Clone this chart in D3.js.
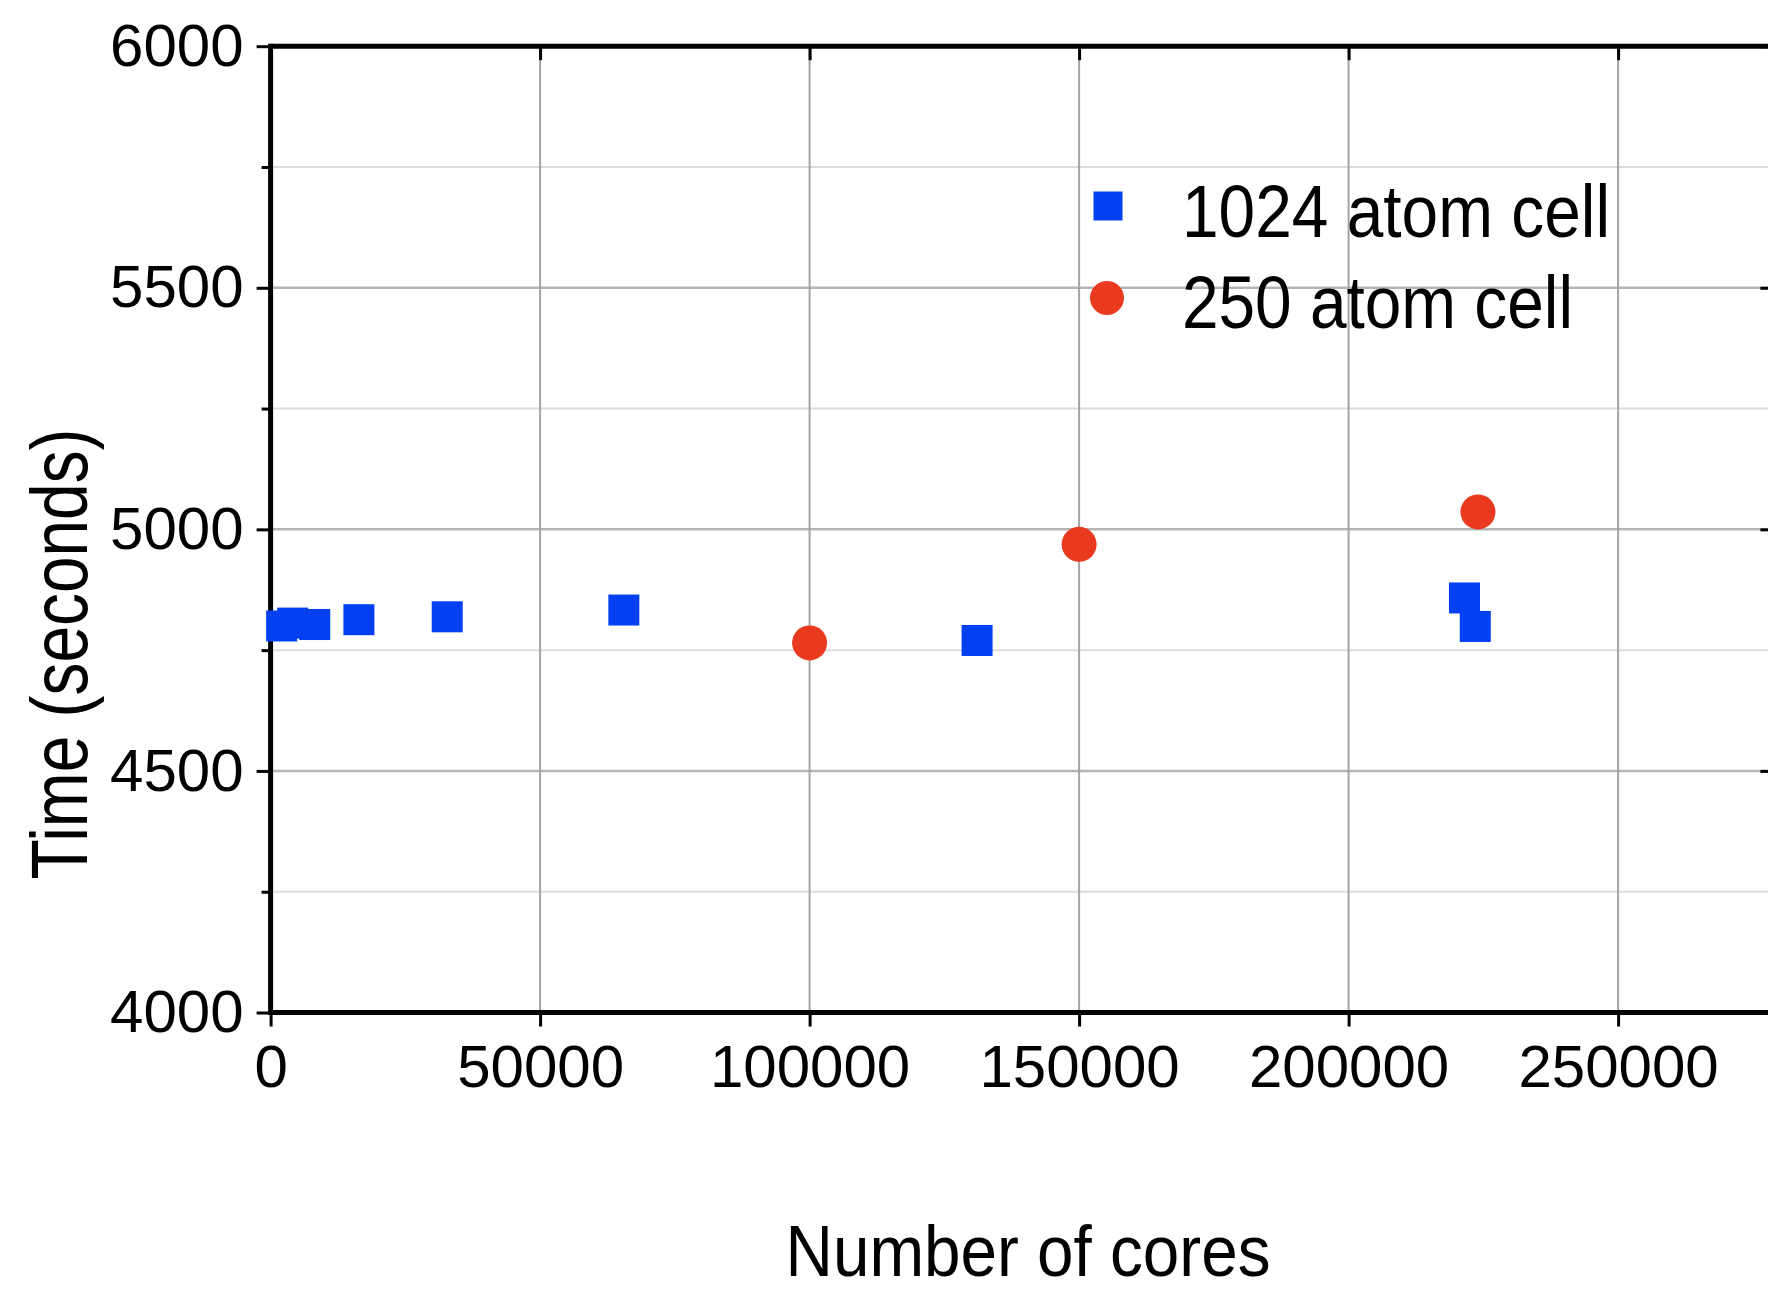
<!DOCTYPE html>
<html>
<head>
<meta charset="utf-8">
<script src="https://cdn.jsdelivr.net/npm/d3@7"></script>
<style>
  html, body { margin: 0; padding: 0; background: #fff; }
  svg { display: block; }
  text { font-family: "Liberation Sans", Arial, Helvetica, sans-serif; fill: #000; }
</style>
</head>
<body>
<svg id="chart" width="1768" height="1290"></svg>
<script>
// Run time against core count for two cell sizes
const cores1024 = [2048, 4096, 8192, 16384, 32768, 65536, 131072, 221500, 223500];
const time1024  = [4800, 4806, 4803, 4813, 4819, 4833, 4770, 4858, 4799];

const cores250 = [100000, 150000, 224000];
const time250  = [4765, 4969, 5036];

const seriesNames = ["1024 atom cell", "250 atom cell"];
const xTicks = [0, 50000, 100000, 150000, 200000, 250000];
const yTicks = [4000, 4500, 5000, 5500, 6000];
const yMinorTicks = [4250, 4750, 5250, 5750];

const blue = "#0340f2";
const red = "#e9391e";

const svg = d3.select("#chart");

const plotLeft = 270.6, plotTop = 46.2, plotBottom = 1012.5;
const xMax = 279000;
const pxPer50k = 269.5;
const plotRight = plotLeft + xMax / 50000 * pxPer50k;

const x = d3.scaleLinear().domain([0, xMax]).range([plotLeft, plotRight]);
const y = d3.scaleLinear().domain([4000, 6000]).range([plotBottom, plotTop]);

// grid
const grid = svg.append("g");
grid.selectAll("line.ymin").data(yMinorTicks).join("line")
  .attr("x1", plotLeft).attr("x2", plotRight)
  .attr("y1", d => y(d)).attr("y2", d => y(d))
  .attr("stroke", "#dcdcdc").attr("stroke-width", 2);
grid.selectAll("line.ymaj").data(yTicks.slice(1, -1)).join("line")
  .attr("x1", plotLeft).attr("x2", plotRight)
  .attr("y1", d => y(d)).attr("y2", d => y(d))
  .attr("stroke", "#b5b5b5").attr("stroke-width", 2.5);
grid.selectAll("line.xmaj").data(xTicks.slice(1)).join("line")
  .attr("x1", d => x(d)).attr("x2", d => x(d))
  .attr("y1", plotTop).attr("y2", plotBottom)
  .attr("stroke", "#a4a4a4").attr("stroke-width", 2);

function styleAxis(g) {
  g.select(".domain").remove();
  g.selectAll(".tick line").attr("stroke", "#000").attr("stroke-width", 3);
  g.selectAll(".tick text").attr("font-size", 60).attr("fill", "#000")
    .attr("font-family", "'Liberation Sans', Arial, sans-serif");
}

// left axis with labels
svg.append("g").attr("transform", `translate(${plotLeft},0)`)
  .call(d3.axisLeft(y).tickValues(yTicks).tickSize(14).tickPadding(13).tickFormat(d3.format("d")))
  .call(styleAxis);
// left minor ticks
svg.append("g").attr("transform", `translate(${plotLeft},0)`)
  .call(d3.axisLeft(y).tickValues(yMinorTicks).tickSize(9).tickFormat(""))
  .call(styleAxis);
// bottom axis with labels
svg.append("g").attr("transform", `translate(0,${plotBottom})`)
  .call(d3.axisBottom(x).tickValues(xTicks).tickSize(14).tickPadding(18).tickFormat(d3.format("d")))
  .call(styleAxis);
// top axis: inward ticks
svg.append("g").attr("transform", `translate(0,${plotTop})`)
  .call(d3.axisBottom(x).tickValues(xTicks).tickSize(14).tickFormat(""))
  .call(styleAxis);
// right axis: inward ticks
svg.append("g").attr("transform", `translate(${plotRight},0)`)
  .call(d3.axisLeft(y).tickValues(yTicks).tickSize(14).tickFormat(""))
  .call(styleAxis);

// frame
const frame = svg.append("g").attr("stroke", "#000").attr("stroke-width", 5).attr("fill", "none");
frame.append("line").attr("x1", plotLeft).attr("x2", plotLeft).attr("y1", plotTop - 2.5).attr("y2", plotBottom + 2.5);
frame.append("line").attr("x1", plotRight).attr("x2", plotRight).attr("y1", plotTop - 2.5).attr("y2", plotBottom + 2.5);
frame.append("line").attr("x1", plotLeft).attr("x2", plotRight).attr("y1", plotTop).attr("y2", plotTop);
frame.append("line").attr("x1", plotLeft).attr("x2", plotRight).attr("y1", plotBottom).attr("y2", plotBottom);

// markers
const sq = 31, rad = 17.5;
svg.append("g").selectAll("rect").data(d3.zip(cores1024, time1024)).join("rect")
  .attr("x", d => x(d[0]) - sq / 2).attr("y", d => y(d[1]) - sq / 2)
  .attr("width", sq).attr("height", sq).attr("fill", blue);
svg.append("g").selectAll("circle").data(d3.zip(cores250, time250)).join("circle")
  .attr("cx", d => x(d[0])).attr("cy", d => y(d[1])).attr("r", rad).attr("fill", red);

// legend
const lg = svg.append("g");
lg.append("rect").attr("x", 1108 - 14.5).attr("y", 206 - 14.5).attr("width", 29).attr("height", 29).attr("fill", blue);
lg.append("circle").attr("cx", 1107).attr("cy", 298).attr("r", 17).attr("fill", red);
lg.append("text").attr("x", 1182).attr("y", 237).attr("font-size", 75)
  .attr("textLength", 428).attr("lengthAdjust", "spacingAndGlyphs").text(seriesNames[0]);
lg.append("text").attr("x", 1182).attr("y", 328).attr("font-size", 75)
  .attr("textLength", 391).attr("lengthAdjust", "spacingAndGlyphs").text(seriesNames[1]);

// axis titles
svg.append("text").attr("x", 1028).attr("y", 1276).attr("font-size", 72)
  .attr("text-anchor", "middle")
  .attr("textLength", 485).attr("lengthAdjust", "spacingAndGlyphs")
  .text("Number of cores");
svg.append("text").attr("transform", "translate(87,654) rotate(-90)")
  .attr("font-size", 80).attr("text-anchor", "middle")
  .attr("textLength", 451).attr("lengthAdjust", "spacingAndGlyphs")
  .text("Time (seconds)");
</script>
</body>
</html>
